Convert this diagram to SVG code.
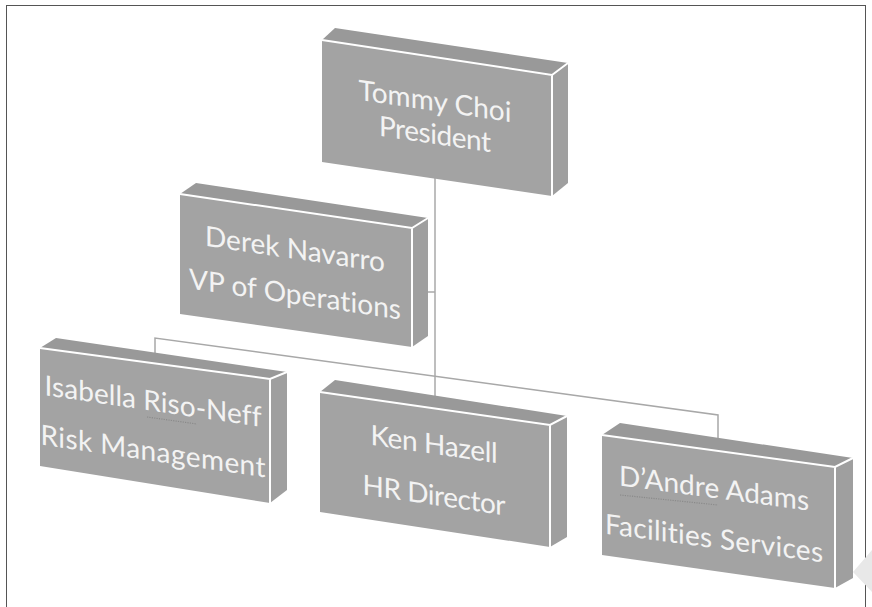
<svg xmlns="http://www.w3.org/2000/svg" width="872" height="607" viewBox="0 0 872 607">
<style>
.front{fill:#a3a3a3}
.top{fill:#999999}
.side{fill:#9f9f9f}
.hl{fill:none;stroke:#ffffff;stroke-width:2}
.conn{fill:none;stroke:#a8a8a8;stroke-width:1.5}
.lbl{font-family:Lato,"Liberation Sans",sans-serif;font-size:28px;fill:#f3f3f3;text-anchor:middle;font-variant-ligatures:none;font-feature-settings:"liga" 0,"clig" 0}
.spell{fill:none;stroke:#8a8a8a;stroke-width:1.2;stroke-dasharray:1.2 1.2}
</style>
<rect x="0" y="0" width="872" height="607" fill="#ffffff"/>
<rect x="6.5" y="5.5" width="859" height="620" fill="none" stroke="#555555" stroke-width="1"/>
<polygon points="853,572 872,550 872,592" fill="#e8e8e8"/>
<g id="connectors">
<path class="conn" d="M435,175 V398"/>
<path class="conn" d="M426,292 H435"/>
<path class="conn" d="M155,358 V338 L718,415 V440"/>
</g>
<g id="president">
<polygon class="top" points="322,40 335,28 568,63 552,75"/>
<polygon class="side" points="552,75 568,63 568,183 552,196"/>
<polygon class="front" points="322,40 552,75 552,196 322,162"/>
<path class="hl" d="M322,40 L552,75 L568,63 M552,75 V196"/>
<g transform="translate(435,111) skewY(8.3)">
<text class="lbl" x="0" y="0" textLength="153">Tommy Choi</text>
<text class="lbl" x="0" y="33" textLength="112">President</text>
</g>
</g>
<g id="vp">
<polygon class="top" points="180,194 196,183 428,218 412,228"/>
<polygon class="side" points="412,228 428,218 428,336 412,347"/>
<polygon class="front" points="180,194 412,228 412,347 180,314"/>
<path class="hl" d="M180,194 L412,228 L428,218 M412,228 V347"/>
<g transform="translate(295,259) skewY(8.3)">
<text class="lbl" x="0" y="0" textLength="180">Derek Navarro</text>
<text class="lbl" x="0" y="45" textLength="212">VP of Operations</text>
</g>
</g>
<g id="isabella">
<polygon class="top" points="40,348 56,338 287,372 270,379"/>
<polygon class="side" points="270,379 287,372 287,490 270,503"/>
<polygon class="front" points="40,348 270,379 270,503 40,466"/>
<path class="hl" d="M40,348 L270,379 L287,372 M270,379 V503"/>
<g transform="translate(153,411) skewY(8.3)">
<text class="lbl" x="0" y="0" textLength="217">Isabella Riso-Neff</text>
<text class="lbl" x="0" y="50" textLength="225">Risk Management</text>
</g>
<path class="spell" d="M147,417 L197,424"/>
</g>
<g id="ken">
<polygon class="top" points="320,392 335,380 567,416 550,425"/>
<polygon class="side" points="550,425 567,416 567,537 550,547"/>
<polygon class="front" points="320,392 550,425 550,547 320,512"/>
<path class="hl" d="M320,392 L550,425 L567,416 M550,425 V547"/>
<g transform="translate(434,454) skewY(8.3)">
<text class="lbl" x="0" y="0" textLength="127">Ken Hazell</text>
<text class="lbl" x="0" y="51" textLength="143">HR Director</text>
</g>
</g>
<g id="dandre">
<polygon class="top" points="602,435 620,423 853,458 835,467"/>
<polygon class="side" points="835,467 853,458 853,578 835,588"/>
<polygon class="front" points="602,435 835,467 835,588 602,555"/>
<path class="hl" d="M602,435 L835,467 L853,458 M835,467 V588"/>
<g transform="translate(714,498) skewY(7.5)">
<text class="lbl" x="0" y="0" textLength="190">D’Andre Adams</text>
<text class="lbl" x="0" y="50" textLength="218">Facilities Services</text>
</g>
<path class="spell" d="M620,495 L718,505"/>
</g>
</svg>
